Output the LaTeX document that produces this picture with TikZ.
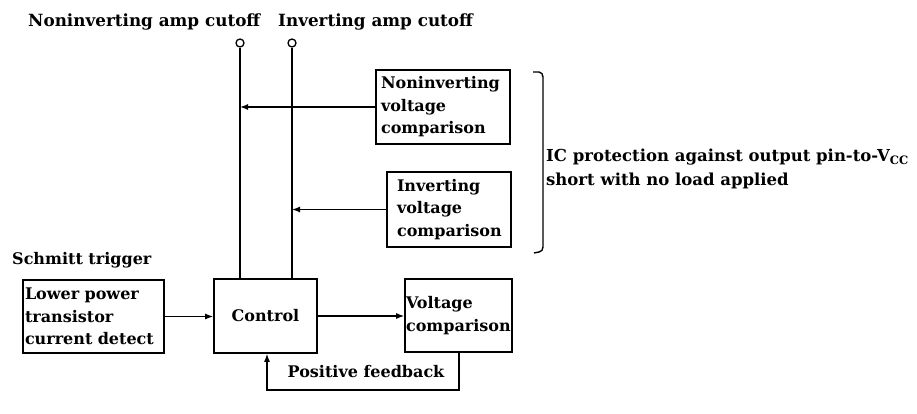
\documentclass[tikz,border=0pt]{standalone}
\usepackage{fontspec}
\setmainfont{DejaVu Serif}
\usetikzlibrary{arrows.meta}
\begin{document}
\begin{tikzpicture}[x=1pt,y=-1pt,
  font=\fontsize{16}{22.5}\selectfont\bfseries,
  blk/.style={draw, line width=1.6pt, inner ysep=0pt, align=left},
  conn/.style={line width=1.3pt},
  arr/.style={conn,-{Latex[length=8pt,width=6pt]}},
  pin/.style={circle, draw, line width=1.3pt, minimum size=8pt, inner sep=0pt},
  lbl/.style={inner sep=0pt, anchor=west, align=left},
  big/.style={font=\fontsize{16.8}{23}\selectfont\bfseries}]
\useasboundingbox (0,0) rectangle (917,414);

% top labels and pins
\node[lbl, big] (nlab) at (28,22) {Noninverting amp cutoff};
\node[lbl, big] (ilab) at (278,22) {Inverting amp cutoff};
\node[pin] (p1) at (240,43) {};
\node[pin] (p2) at (292,43) {};

% blocks
\node[blk, inner xsep=5pt, text width=124pt, minimum height=74pt] (ninv) at (443,107)
  {Noninverting\\voltage\\comparison};
\node[blk, inner xsep=10pt, text width=104pt, minimum height=75pt] (inv) at (449,209.5)
  {Inverting\\voltage\\comparison};
\node[blk, inner xsep=2pt, text width=137pt, minimum height=73pt] (lp) at (93.5,316.5)
  {Lower power\\transistor\\current detect};
\node[blk, align=center, minimum width=103pt, minimum height=74pt] (ctrl) at (265.5,316)
  {Control};
\node[blk, inner xsep=1pt, text width=105pt, minimum height=73pt] (vc) at (458.5,315.5)
  {Voltage\\comparison};

\node[lbl] (sch) at (12,260) {Schmitt trigger};

% connectors
\draw[conn] (p1.south) -- (p1.south |- ctrl.north);
\draw[conn] (p2.south) -- (p2.south |- ctrl.north);
\draw[arr] (ninv.west) -- (ninv.west -| p1);
\draw[arr] (inv.west) -- (inv.west -| p2);
\draw[arr] (lp.east) -- (lp.east -| ctrl.west);
\draw[arr] (ctrl.east) -- (ctrl.east -| vc.west);

% positive feedback loop
\coordinate (fbL) at (267,390);
\coordinate (fbR) at (459,390);
\draw[arr] (vc.south -| fbR) -- (fbR) -- (fbL) -- (fbL |- ctrl.south);
\node[inner sep=0pt] (pf) at (366,372) {Positive feedback};

% bracket and note
\draw[line width=1.4pt] (533,72) -- (539,72) to[out=0,in=90] (543,77) -- (543,247)
  to[out=-90,in=0] (539,252) -- (534,253);
\node[lbl, font=\fontsize{16.5}{24}\selectfont\bfseries] (note) at (546,169)
  {IC protection against output pin-to-V\textsubscript{CC}\\short with no load applied};
\end{tikzpicture}
\end{document}
